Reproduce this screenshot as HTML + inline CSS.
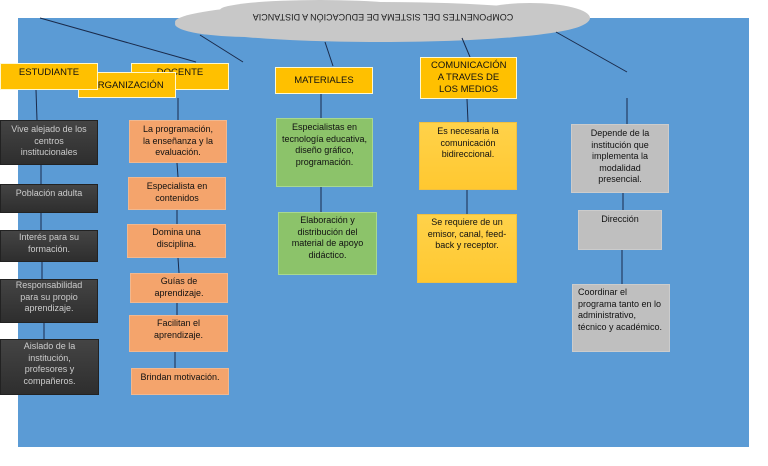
<!DOCTYPE html>
<html><head><meta charset="utf-8"><style>
body{margin:0;width:768px;height:466px;background:#fff;position:relative;overflow:hidden;font-family:"Liberation Sans",sans-serif;}
.bg{position:absolute;left:18px;top:18px;width:731px;height:429px;background:#5b9bd5;}
.b{position:absolute;box-sizing:border-box;text-align:center;font-size:9px;line-height:11.5px;padding:3px 9px 0;color:#111;}
.y{background:#ffc000;border:1.5px solid #fff8d0;font-size:9.5px;padding-top:7px;padding-left:2px;padding-right:2px;}
.d{background:linear-gradient(#444,#2e2e2e);color:#ccc;border:1px solid #222;}
.o{background:#f4a46c;border:1px solid #f0b890;}
.g{background:#8cc36a;border:1px solid #a8d890;}
.l{background:linear-gradient(#ffd24a,#ffc830);border:1px solid #f0c040;}
.s{background:#bfbfbf;border:1px solid #ccc;}
svg{position:absolute;left:0;top:0;}
</style></head><body>
<div class="bg"></div>
<svg width="768" height="466">
<g fill="#c8c8c8">
<ellipse cx="380" cy="22" rx="205" ry="20"/>
<ellipse cx="250" cy="24" rx="75" ry="13"/>
<ellipse cx="530" cy="18" rx="60" ry="15"/>
<ellipse cx="320" cy="10" rx="100" ry="10"/>
</g>
<g stroke="#1a2a4a" stroke-width="1" fill="none">
<line x1="40" y1="18" x2="196" y2="62"/>
<line x1="200" y1="35" x2="243" y2="62"/>
<line x1="325" y1="42" x2="333" y2="66"/>
<line x1="462" y1="38" x2="470" y2="57"/>
<line x1="556" y1="32" x2="627" y2="72"/>
<line x1="36" y1="90" x2="37" y2="120"/>
<line x1="41" y1="165" x2="41" y2="184"/>
<line x1="41" y1="213" x2="41" y2="230"/>
<line x1="42" y1="262" x2="42" y2="279"/>
<line x1="44" y1="323" x2="44" y2="339"/>
<line x1="178" y1="98" x2="178" y2="120"/>
<line x1="177" y1="163" x2="178" y2="177"/>
<line x1="177" y1="210" x2="177" y2="224"/>
<line x1="178" y1="258" x2="179" y2="273"/>
<line x1="177" y1="303" x2="177" y2="315"/>
<line x1="175" y1="352" x2="175" y2="368"/>
<line x1="321" y1="94" x2="321" y2="118"/>
<line x1="321" y1="187" x2="321" y2="212"/>
<line x1="467" y1="99" x2="468" y2="122"/>
<line x1="467" y1="190" x2="467" y2="214"/>
<line x1="627" y1="98" x2="627" y2="124"/>
<line x1="623" y1="193" x2="623" y2="210"/>
<line x1="622" y1="250" x2="622" y2="284"/>
</g>
<text x="383" y="20" font-size="9" fill="#222" text-anchor="middle" transform="rotate(180 383 17)" font-family="Liberation Sans">COMPONENTES DEL SISTEMA DE EDUCACIÓN A DISTANCIA</text>
</svg>
<div class="b y" style="left:131px;top:63px;width:98px;height:27px;padding-top:3px;">DOCENTE</div>
<div class="b y" style="left:78px;top:72px;width:98px;height:26px;">ORGANIZACIÓN</div>
<div class="b y" style="left:0;top:63px;width:98px;height:27px;padding-top:3px;">ESTUDIANTE</div>
<div class="b y" style="left:275px;top:67px;width:98px;height:27px;">MATERIALES</div>
<div class="b y" style="left:420px;top:57px;width:97px;height:42px;padding:2px 10px 0;line-height:12px;">COMUNICACIÓN A TRAVES DE LOS MEDIOS</div>

<div class="b d" style="left:0;top:120px;width:98px;height:45px;">Vive alejado de los centros institucionales</div>
<div class="b d" style="left:0;top:184px;width:98px;height:29px;">Población adulta</div>
<div class="b d" style="left:0;top:230px;width:98px;height:32px;padding:1px 14px 0;">Interés para su formación.</div>
<div class="b d" style="left:0;top:279px;width:98px;height:44px;padding:0 12px;">Responsabilidad para su propio aprendizaje.</div>
<div class="b d" style="left:0;top:339px;width:99px;height:56px;padding:1px 18px 0;">Aislado de la institución, profesores y compañeros.</div>

<div class="b o" style="left:129px;top:120px;width:98px;height:43px;">La programación, la enseñanza y la evaluación.</div>
<div class="b o" style="left:128px;top:177px;width:98px;height:33px;padding:3px 14px 0;">Especialista en contenidos</div>
<div class="b o" style="left:127px;top:224px;width:99px;height:34px;padding:2px 20px 0;">Domina una disciplina.</div>
<div class="b o" style="left:130px;top:273px;width:98px;height:30px;padding:2px 18px 0;">Guías de aprendizaje.</div>
<div class="b o" style="left:129px;top:315px;width:99px;height:37px;padding:2px 18px 0;">Facilitan el aprendizaje.</div>
<div class="b o" style="left:131px;top:368px;width:98px;height:27px;padding:3px 2px 0;">Brindan motivación.</div>

<div class="b g" style="left:276px;top:118px;width:97px;height:69px;padding:3px 3px 0;">Especialistas en tecnología educativa, diseño gráfico, programación.</div>
<div class="b g" style="left:278px;top:212px;width:99px;height:63px;padding:2px 10px 0;">Elaboración y distribución del material de apoyo didáctico.</div>

<div class="b l" style="left:419px;top:122px;width:98px;height:68px;padding:3px 14px 0;">Es necesaria la comunicación bidireccional.</div>
<div class="b l" style="left:417px;top:214px;width:100px;height:69px;padding:2px 6px 0;">Se requiere de un emisor, canal, feed-back y receptor.</div>

<div class="b s" style="left:571px;top:124px;width:98px;height:69px;padding:3px 12px 0;">Depende de la institución que implementa la modalidad presencial.</div>
<div class="b s" style="left:578px;top:210px;width:84px;height:40px;">Dirección</div>
<div class="b s" style="left:572px;top:284px;width:98px;height:68px;text-align:left;padding:2px 3px 0 5px;">Coordinar el programa tanto en lo administrativo, técnico y académico.</div>
</body></html>
